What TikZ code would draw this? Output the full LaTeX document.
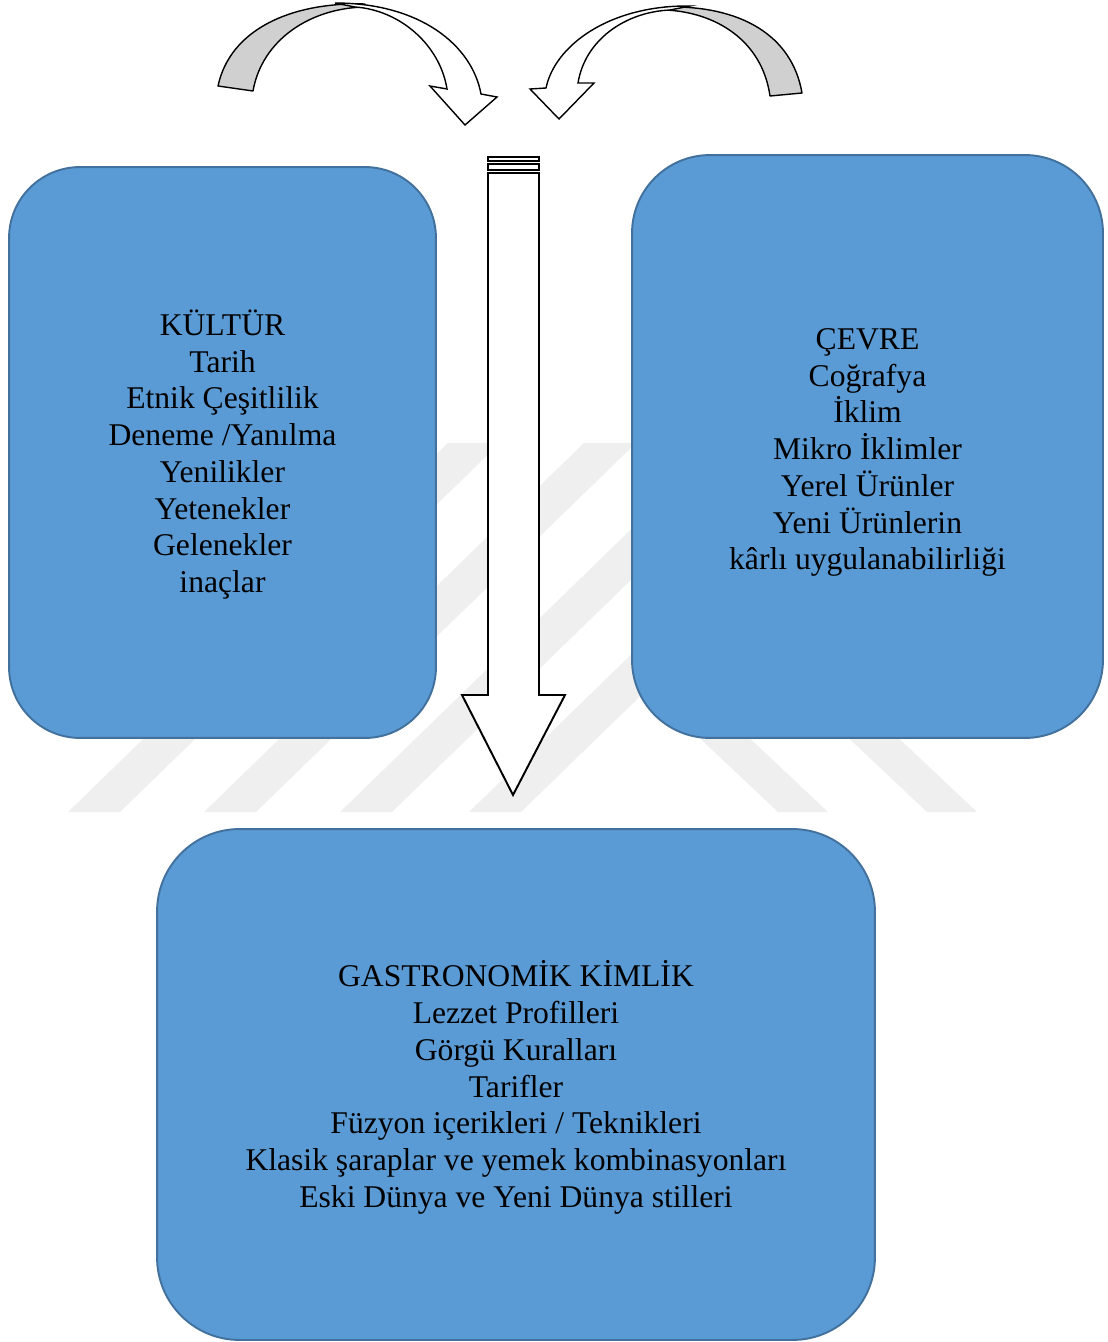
\documentclass[tikz,border=0pt]{standalone}
\usepackage{fontspec}
\setmainfont{Liberation Serif}
\definecolor{boxfill}{HTML}{5B9BD5}
\definecolor{boxline}{HTML}{41719C}
\definecolor{wmgray}{HTML}{EFEFEF}
\definecolor{tailgray}{HTML}{D0D0D0}
\tikzset{
  infobox/.style={draw=boxline, fill=boxfill, line width=1.1pt, inner sep=0pt},
  infotext/.style={align=center, font=\fontsize{18}{20.9}\selectfont, inner sep=0pt},
  bigarrow/.style={draw=black, fill=white, line width=1.1pt, line join=miter},
  curvtail/.style={draw=black, fill=tailgray, line width=0.8pt, line join=round},
  curvhead/.style={draw=black, fill=white, line width=0.8pt, line join=miter},
  wmstripe/.style={fill=wmgray, draw=none}
}
\begin{document}
\begin{tikzpicture}[x=0.02cm,y=-0.02cm]
\useasboundingbox (0,0) rectangle (1107,1342);
% faint watermark
\foreach \b in {68,204,340,469}{
  \fill[wmstripe] (\b,812) -- ({\b+52},812) -- ({\b+432},443) -- ({\b+380},443) -- cycle;
}
\foreach \b in {778,927}{
  \fill[wmstripe] (\b,812) -- ({\b+50},812) -- ({\b-90},680) -- ({\b-140},680) -- cycle;
}
% boxes
\node[infobox, minimum width=8.54cm, minimum height=11.42cm, rounded corners=1.42cm] (kultur) at (222.5,452.5) {};
\node[infotext] (kulturtext) at ([yshift=-0.04cm]kultur.center)
  {KÜLTÜR\\Tarih\\Etnik Çeşitlilik\\Deneme /Yanılma\\Yenilikler\\Yetenekler\\Gelenekler\\inaçlar};
\node[infobox, minimum width=9.42cm, minimum height=11.66cm, rounded corners=1.56cm] (cevre) at (867.5,446.5) {};
\node[infotext] (cevretext) at ([yshift=-0.12cm]cevre.center)
  {ÇEVRE\\Coğrafya\\İklim\\Mikro İklimler\\Yerel Ürünler\\Yeni Ürünlerin\\kârlı uygulanabilirliği};
\node[infobox, minimum width=14.36cm, minimum height=10.22cm, rounded corners=1.65cm] (gastro) at (516,1084.5) {};
\node[infotext] (gastrotext) at ([yshift=-0.06cm]gastro.center)
  {GASTRONOMİK KİMLİK\\Lezzet Profilleri\\Görgü Kuralları\\Tarifler\\Füzyon içerikleri / Teknikleri\\Klasik şaraplar ve yemek kombinasyonları\\Eski Dünya ve Yeni Dünya stilleri};
% striped down arrow
\draw[bigarrow] (488,157) rectangle (539,161);
\draw[bigarrow] (488,164) rectangle (539,170);
\draw[bigarrow] (488,173) -- (539,173) -- (539,695) -- (565,695) -- (513,795) -- (462,695) -- (488,695) -- cycle;
% left curved arrow
\draw[curvtail] (218,86) .. controls (230,30) and (290,2) .. (365,4) -- (365,7)
  .. controls (310,8) and (262,40) .. (253,91) -- cycle;
\draw[curvhead] (335,3) .. controls (420,3) and (472,45) .. (481,94) -- (497,97) -- (465,125)
  -- (430,86) -- (447,89) .. controls (440,45) and (400,10) .. (355,7) -- cycle;
% right curved arrow
\draw[curvtail] (802,93) .. controls (792,35) and (740,5) .. (665,7) -- (665,10)
  .. controls (715,12) and (762,40) .. (770,96) -- cycle;
\draw[curvhead] (690,6) .. controls (610,5) and (555,45) .. (546,88) -- (530,89) -- (559,119)
  -- (594,83) -- (578,83) .. controls (585,40) and (625,12) .. (670,10) -- cycle;
\end{tikzpicture}
\end{document}
